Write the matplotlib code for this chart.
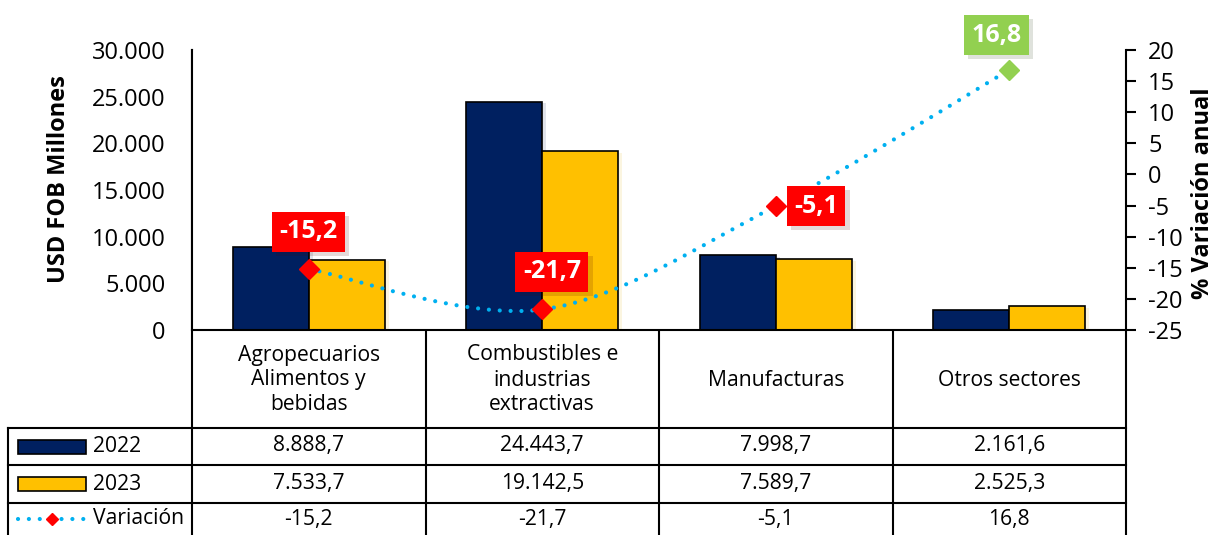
import matplotlib
matplotlib.use('Agg')
import matplotlib.pyplot as plt
import matplotlib.patheffects as pe
from matplotlib.path import Path
from matplotlib.patches import PathPatch, Rectangle
from matplotlib.ticker import FuncFormatter
from matplotlib.lines import Line2D

plt.rcParams['font.family'] = ['Open Sans', 'DejaVu Sans']
plt.rcParams['axes.unicode_minus'] = False

# data
categories = ['Agropecuarios\nAlimentos y\nbebidas', 'Combustibles e\nindustrias\nextractivas',
              'Manufacturas', 'Otros sectores']
v2022 = [8888.7, 24443.7, 7998.7, 2161.6]
v2023 = [7533.7, 19142.5, 7589.7, 2525.3]
variacion = [-15.2, -21.7, -5.1, 16.8]
row_labels = ['2022', '2023', 'Variación']

# styles
c22 = '#002060'
c23 = '#FFC000'
cline = '#00B0F0'
box_colors = ['#FF0000', '#FF0000', '#FF0000', '#92D050']
label_offsets = [(0, 27), (7, 27), (29, 0), (-9, 25)]

W, H = 1217, 535
fig = plt.figure(figsize=(W / 100, H / 100), dpi=100)

def fx(px):
    return px / W

def fy(py):
    return 1 - py / H

x_left, x_right, y_top, y_base = 192, 1126, 50, 330
ax = fig.add_axes([fx(x_left), fy(y_base), fx(x_right - x_left), (y_base - y_top) / H])
ax2 = ax.twinx()

x = list(range(len(categories)))
bw = 0.325
shadow = [pe.SimplePatchShadow(offset=(3, -1), alpha=0.12, rho=0.9), pe.Normal()]
b1 = ax.bar([i - bw / 2 for i in x], v2022, bw, color=c22, edgecolor='black', lw=1.2)
b2 = ax.bar([i + bw / 2 for i in x], v2023, bw, color=c23, edgecolor='black', lw=1.2)
for b in list(b1) + list(b2):
    b.set_path_effects(shadow)

ax.set_xlim(-0.5, 3.5)
ax.set_ylim(0, 30000)
ax.set_yticks(range(0, 30001, 5000))
ax.yaxis.set_major_formatter(FuncFormatter(lambda v, p: f'{int(v):,}'.replace(',', '.')))
ax.tick_params(axis='y', length=0, pad=19, labelsize=17)
ax.set_xticks([])
for s in ['top', 'right']:
    ax.spines[s].set_visible(False)
ax.spines['left'].set_linewidth(1.5)
ax.spines['bottom'].set_linewidth(1.5)
ax.set_ylabel('USD FOB Millones', fontsize=17, fontweight='bold', labelpad=15)
ax.yaxis.label.set_y(0.54)

ax2.set_ylim(-25, 20)
ax2.set_yticks(range(-25, 21, 5))
ax2.tick_params(axis='y', length=7, width=1.5, pad=9, labelsize=17, direction='out')
for s in ['top', 'left', 'bottom']:
    ax2.spines[s].set_visible(False)
ax2.spines['right'].set_linewidth(1.5)
ax2.set_ylabel('% Variación anual', fontsize=17, fontweight='bold', labelpad=6)
ax2.yaxis.label.set_y(0.49)

# smoothed line (cubic bezier segments through the points)
pts = list(zip(x, variacion))
verts = [pts[0]]
codes = [Path.MOVETO]
for i in range(len(pts) - 1):
    p0 = pts[max(i - 1, 0)]
    p1 = pts[i]
    p2 = pts[i + 1]
    p3 = pts[min(i + 2, len(pts) - 1)]
    c1 = (p1[0] + (p2[0] - p0[0]) / 6, p1[1] + (p2[1] - p0[1]) / 6)
    c2 = (p2[0] - (p3[0] - p1[0]) / 6, p2[1] - (p3[1] - p1[1]) / 6)
    verts += [c1, c2, p2]
    codes += [Path.CURVE4] * 3
ax2.add_patch(PathPatch(Path(verts, codes), fill=False, edgecolor=cline, lw=3,
                        linestyle=(0, (0.01, 2.6)), capstyle='round'))

for i, v in enumerate(variacion):
    ax2.plot(i, v, 'D', color=box_colors[i], markersize=10, zorder=5)
    ax2.annotate(f'{v:.1f}'.replace('.', ','), (i, v), xytext=label_offsets[i],
                 textcoords='offset points', ha='center', va='center', color='white',
                 fontsize=18, fontweight='bold', zorder=6,
                 bbox=dict(boxstyle='square,pad=0.3', fc=box_colors[i], ec='none',
                           path_effects=[pe.SimplePatchShadow(offset=(3, -3), alpha=0.15),
                                         pe.Normal()]))

# data table under the chart
tab = fig.add_axes([0, 0, 1, 1], zorder=-1)
tab.set_xlim(0, W)
tab.set_ylim(H, 0)
tab.axis('off')
col_w = (x_right - x_left) / len(categories)
rows_y = [428, 465, 503, 541]
lk = dict(color='black', lw=1.5)
tab.plot([x_left, x_left], [y_top, H], **lk)
tab.plot([x_right, x_right], [y_base, H], **lk)
for j in range(1, len(categories)):
    xx = x_left + j * col_w
    tab.plot([xx, xx], [y_base, H], **lk)
tab.plot([8, 8], [rows_y[0], H], **lk)
for yy in rows_y[:3]:
    tab.plot([8, x_right], [yy, yy], **lk)

fs = 15.2
for j, cat in enumerate(categories):
    tab.text(x_left + (j + 0.5) * col_w, (y_base + rows_y[0]) / 2 + 1, cat, ha='center',
             va='center', fontsize=fs, linespacing=1.25)
    row_vals = [f'{v2022[j]:,.1f}', f'{v2023[j]:,.1f}', f'{variacion[j]:.1f}']
    for r, s in enumerate(row_vals):
        s = s.replace(',', '#').replace('.', ',').replace('#', '.')
        tab.text(x_left + (j + 0.5) * col_w, (rows_y[r] + rows_y[r + 1]) / 2 - 1 - (r == 2) * 2,
                 s, ha='center', va='center', fontsize=fs)

for r, lab in enumerate(row_labels):
    yc = (rows_y[r] + rows_y[r + 1]) / 2 - (r == 2) * 3
    if r < 2:
        tab.add_patch(Rectangle((18, yc - 7), 68, 14, fc=[c22, c23][r], ec='black', lw=1.2))
    else:
        tab.add_line(Line2D([18, 86], [yc, yc], color=cline, lw=3,
                            linestyle=(0, (0.01, 2.6)), dash_capstyle='round'))
        tab.plot(52, yc, 'D', color='#FF0000', markersize=6)
    tab.text(93, yc, lab, ha='left', va='center', fontsize=fs)

fig.savefig('out.png', dpi=100)
